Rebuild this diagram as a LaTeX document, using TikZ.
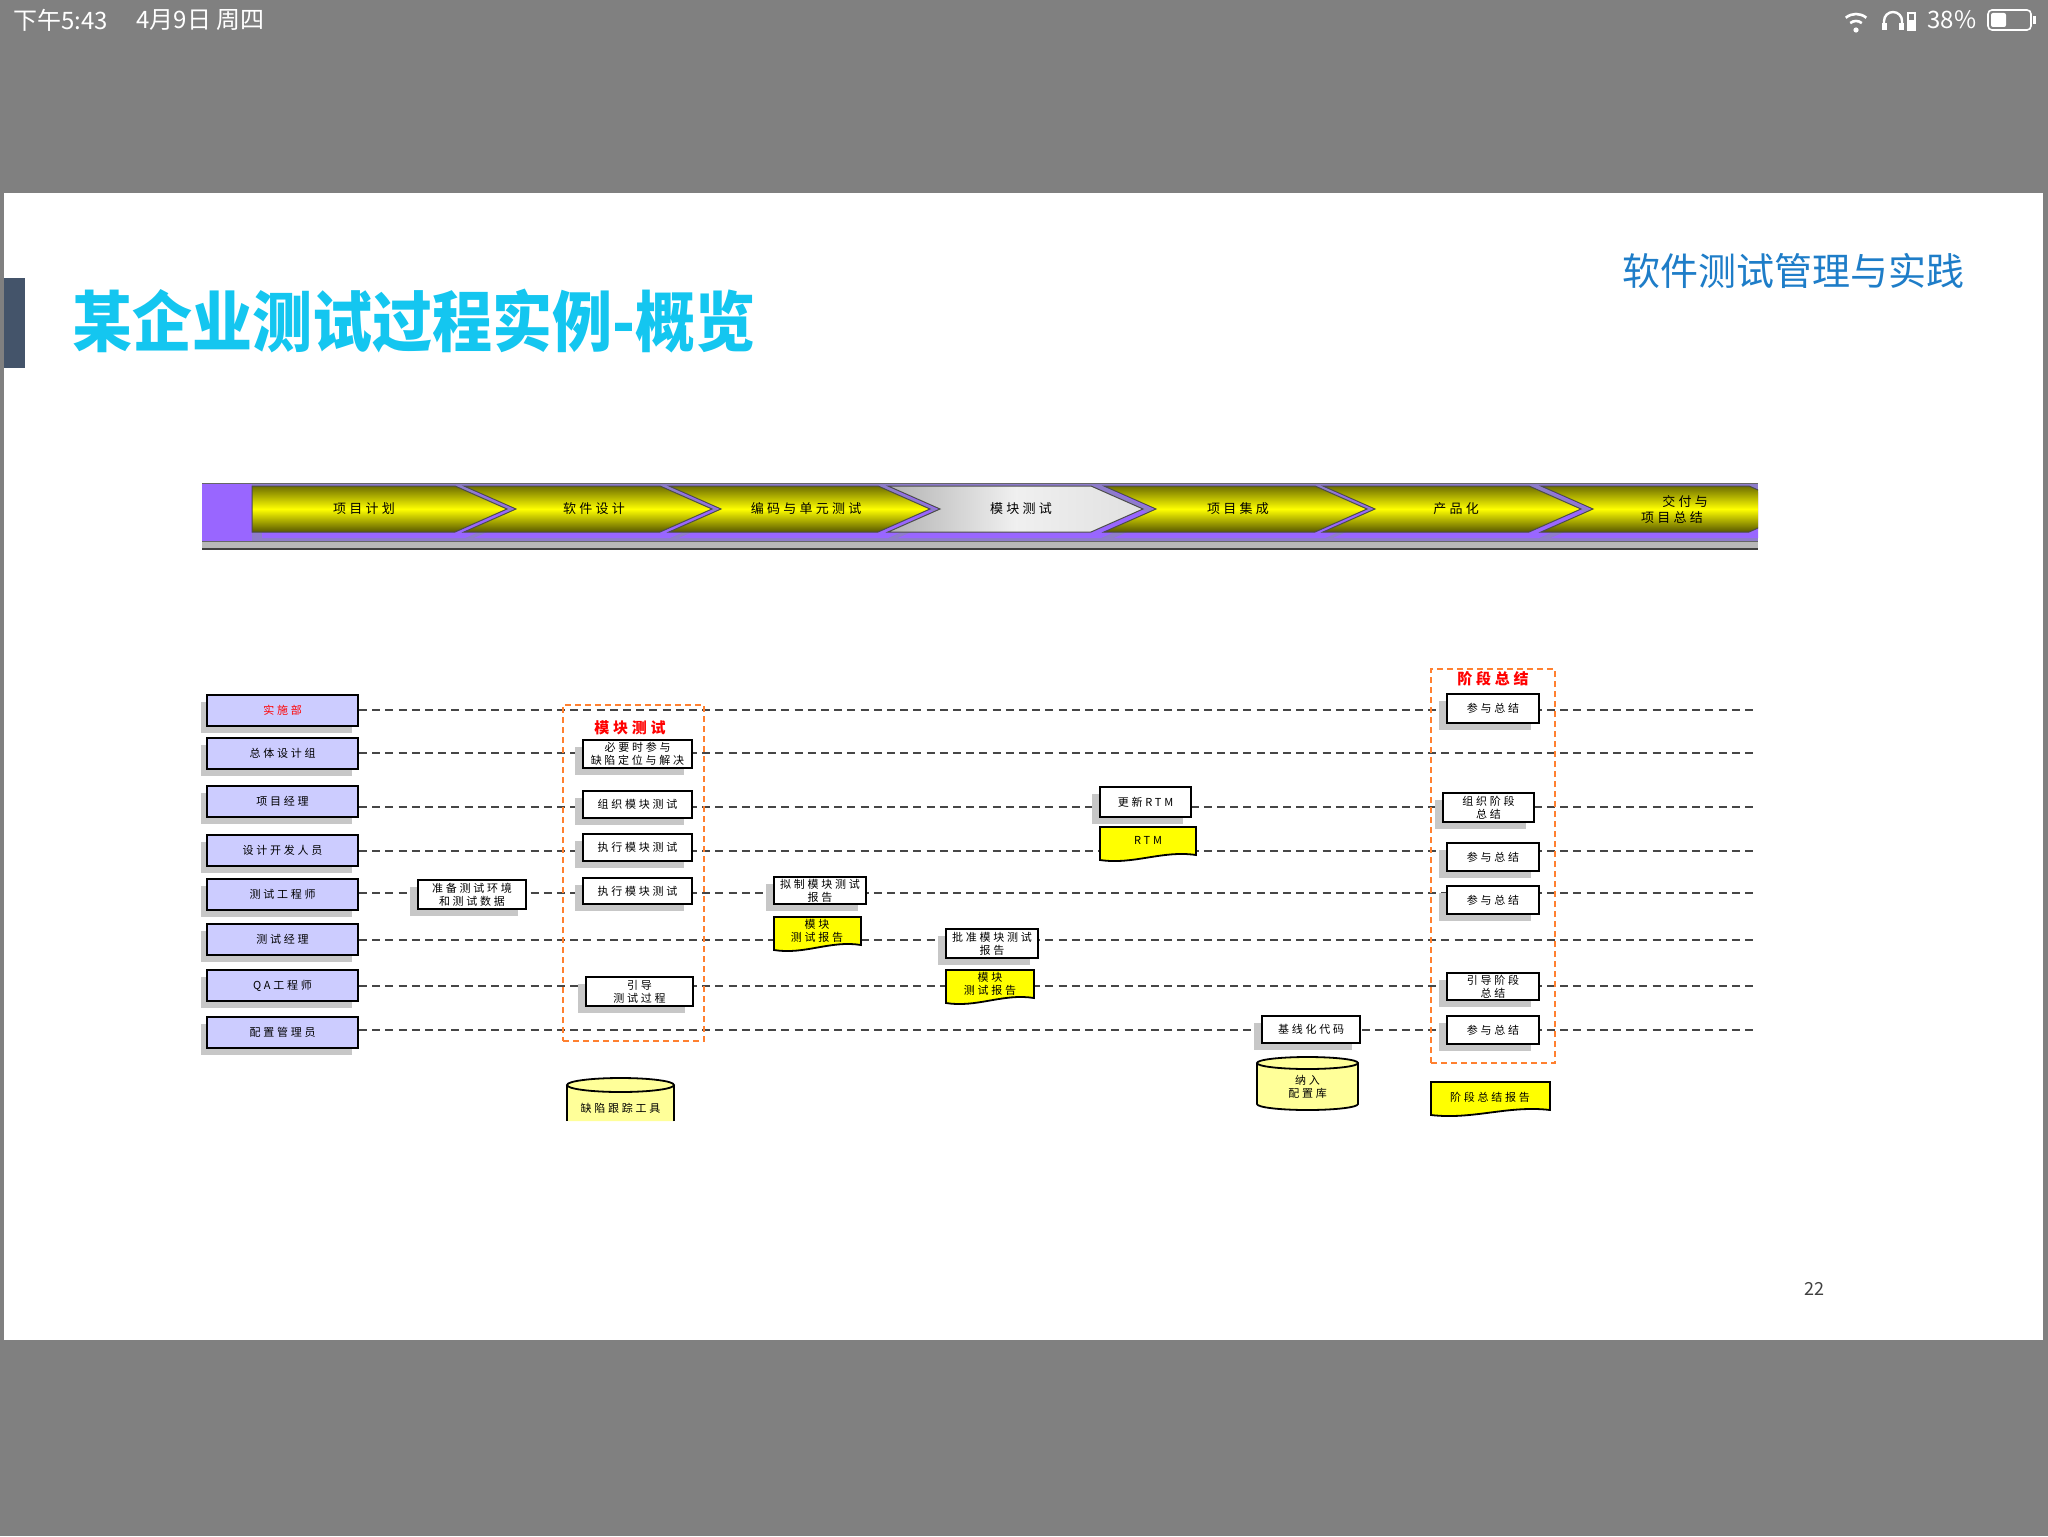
\documentclass[tikz,border=0pt]{standalone}
\usepackage{fontspec}
\newfontfamily\cjk{Noto Sans CJK SC}
\newfontfamily\cjksp[LetterSpace=25]{Noto Sans CJK SC}
\usetikzlibrary{shadows,calc}
\pgfdeclarelayer{bg}
\pgfdeclarelayer{lanes}
\pgfsetlayers{bg,lanes,main}
\definecolor{slidegray}{RGB}{128,128,128}
\definecolor{titlebar}{RGB}{68,84,106}
\definecolor{titlecyan}{RGB}{20,198,240}
\definecolor{subblue}{RGB}{30,125,200}
\definecolor{lav}{RGB}{204,204,255}
\definecolor{docyellow}{RGB}{255,255,0}
\definecolor{cylyellow}{RGB}{255,255,153}
\definecolor{orangeline}{RGB}{255,128,48}
\definecolor{bandpurple}{RGB}{142,124,203}
\definecolor{brightpurple}{RGB}{153,102,255}
\definecolor{olivedark}{RGB}{110,110,0}
\definecolor{lanegray}{RGB}{70,70,70}
\newcommand\chevshape[4]{\path[#4] (#1,486) -- (#2,486) -- ({#2+52},509) -- (#2,532) -- (#1,532) -- ({#1+#3},509) -- cycle;}
\newcommand\docshape[4]{\filldraw[docstyle] (#1,#2) -- (#3,#2) -- (#3,{#4-6}) .. controls ({#1+0.65*(#3-#1)},{#4-11}) and ({#1+0.35*(#3-#1)},{#4+4}) .. (#1,{#4-1}) -- cycle;}
\begin{document}
\begin{tikzpicture}[x=0.5pt,y=-0.5pt,
 wh/.style 2 args={minimum width={(#1)*0.5pt}, minimum height={(#2)*0.5pt}},
 boxfont/.style={font=\cjksp\fontsize{5.5}{6.6}\selectfont},
 rolebox/.style={draw=black, line width=1pt, fill=lav, inner sep=0pt, boxfont, wh={151}{31},
   drop shadow={shadow xshift=-3pt, shadow yshift=-3.5pt, fill=black!22, opacity=1}},
 wbox/.style={draw=black, line width=0.9pt, fill=white, inner sep=0pt, align=center, boxfont,
   drop shadow={shadow xshift=-4pt, shadow yshift=-3.5pt, fill=black!22, opacity=1}},
 doclabel/.style={inner sep=0pt, align=center, boxfont},
 lane/.style={draw=lanegray, line width=0.7pt, dash pattern=on 4pt off 2.6pt},
 orangebox/.style={draw=orangeline, line width=0.9pt, dash pattern=on 3pt off 2pt, inner sep=0pt},
 grouptitle/.style={text=red, font=\cjksp\bfseries\fontsize{7.5}{9}\selectfont, inner sep=0pt},
 docstyle/.style={fill=docyellow, draw=black, line width=0.9pt},
 cylstyle/.style={fill=cylyellow, draw=black, line width=0.9pt},
 chevfont/.style={font=\cjksp\fontsize{6.5}{8}\selectfont, inner sep=0pt, align=center},
 chevfill/.style={top color=olivedark, bottom color=olivedark!80!black, middle color=yellow, draw=black!70, line width=0.5pt},
 marblefill/.style={left color=black!30, right color=black!12, middle color=black!6, draw=black!70, line width=0.5pt},
 chevshadow/.style={fill=brightpurple, xshift=5pt, yshift=-3pt},
]
\useasboundingbox (0,0) rectangle (2048,1536);
\begin{pgfonlayer}{bg}
\fill[slidegray] (0,0) rectangle (2048,1536);
\fill[white] (4,193) rectangle (2043,1340);
\fill[titlebar] (4,278) rectangle (25,368);
\end{pgfonlayer}

% status bar
\node[anchor=west, text=white, font=\cjk\fontsize{12}{14}\selectfont, inner sep=0pt] (time) at (13,20) {下午5:43};
\node[anchor=west, text=white, font=\cjk\fontsize{12}{14}\selectfont, inner sep=0pt] (date) at (136,20) {4月9日 周四};
\fill[white] (1856,30) circle[radius=1.3pt];
\draw[white, line width=1.3pt] (1856,30) ++(50:4.5pt) arc[start angle=50,end angle=130,radius=4.5pt];
\draw[white, line width=1.3pt] (1856,30) ++(50:8pt) arc[start angle=50,end angle=130,radius=8pt];
\draw[white, line width=1.2pt] (1884,29) -- (1884,21) arc[start angle=180,end angle=0,radius=4.5pt] -- (1902,29);
\fill[white] (1882,23) rectangle (1887,30);
\fill[white] (1899,23) rectangle (1904,30);
\draw[white, line width=0.6pt] (1908,13) rectangle (1915,30);
\fill[white] (1909,20) rectangle (1914,29);
\node[anchor=west, text=white, font=\cjk\fontsize{12}{14}\selectfont, inner sep=0pt] (batt) at (1927,20) {38\%};
\draw[white, line width=0.8pt, rounded corners=2pt] (1988,10) rectangle (2031,30);
\fill[white, rounded corners=1pt] (1991,13) rectangle (2006,27);
\fill[white] (2033,16) rectangle (2036,24);

% titles
\node[anchor=west, inner sep=0pt, text=titlecyan, font=\cjk\bfseries\fontsize{30}{32}\selectfont] (title) at (72,321) {\scalebox{1}[1.1]{某企业测试过程实例-概览}};
\node[anchor=west, inner sep=0pt, text=subblue, font=\cjk\fontsize{19}{21}\selectfont] (subtitle) at (1622,271) {软件测试管理与实践};
\node[inner sep=0pt, text=black!75, font=\cjk\fontsize{9}{10}\selectfont] (pgnum) at (1814,1289) {22};

% phase band
\fill[bandpurple] (202,483) rectangle (1758,541);
\fill[brightpurple] (202,483) rectangle (252,541);
\begin{scope}
\clip (202,483) rectangle (1758,541);
\chevshape{252}{455}{0}{chevshadow}
\chevshape{464}{660}{52}{chevshadow}
\chevshape{669}{878}{52}{chevshadow}
\chevshape{888}{1091}{52}{chevshadow}
\chevshape{1104}{1315}{52}{chevshadow}
\chevshape{1323}{1529}{52}{chevshadow}
\chevshape{1541}{1749}{52}{chevshadow}
\chevshape{252}{455}{0}{chevfill}
\chevshape{464}{660}{52}{chevfill}
\chevshape{669}{878}{52}{chevfill}
\chevshape{888}{1091}{52}{marblefill}
\chevshape{1104}{1315}{52}{chevfill}
\chevshape{1323}{1529}{52}{chevfill}
\chevshape{1541}{1749}{52}{chevfill}
\end{scope}
\draw[black!60, line width=0.5pt] (202,483.5) -- (1758,483.5);
\fill[black!28] (202,541) rectangle (1758,549);
\draw[black!60, line width=0.5pt] (202,541) -- (1758,541);
\draw[black!75, line width=0.8pt] (202,549) -- (1758,549);
\node[chevfont] (p1) at (364,509) {项目计划};
\node[chevfont] (p2) at (594,509) {软件设计};
\node[chevfont] (p3) at (806,509) {编码与单元测试};
\node[chevfont] (p4) at (1021,509) {模块测试};
\node[chevfont] (p5) at (1238,509) {项目集成};
\node[chevfont] (p6) at (1456,509) {产品化};
\node[chevfont] (p7) at (1672,509) {\hspace*{2em}交付与\\项目总结};

% roles
\node[rolebox, text=red] (r1) at (282.5,710) {实施部};
\node[rolebox] (r2) at (282.5,753) {总体设计组};
\node[rolebox] (r3) at (282.5,801.5) {项目经理};
\node[rolebox] (r4) at (282.5,850.5) {设计开发人员};
\node[rolebox] (r5) at (282.5,894.5) {测试工程师};
\node[rolebox] (r6) at (282.5,939.5) {测试经理};
\node[rolebox] (r7) at (282.5,985.5) {QA工程师};
\node[rolebox] (r8) at (282.5,1032) {配置管理员};

% module test group
\node[orangebox, wh={141}{336}] (mtgroup) at (633.5,873) {};
\node[grouptitle] (mttitle) at (630,728) {模块测试};
\node[wbox, wh={109}{28}] (bhelp) at (637.5,754) {必要时参与\\缺陷定位与解决};
\node[wbox, wh={109}{27}] (borg) at (637.5,804.5) {组织模块测试};
\node[wbox, wh={109}{27}] (bexeca) at (637.5,847.5) {执行模块测试};
\node[wbox, wh={109}{26}] (bexecb) at (637.5,891) {执行模块测试};
\node[wbox, wh={107}{29}] (bguide) at (639.5,991.5) {引导\\测试过程};
\node[wbox, wh={108}{29}] (bprep) at (472,894.5) {准备测试环境\\和测试数据};

% defect tracking tool (cut cylinder)
\fill[cylyellow] (567,1085) -- (567,1121) -- (674,1121) -- (674,1085) arc[start angle=0,end angle=180,x radius=26.75pt,y radius=3.5pt] -- cycle;
\draw[black, line width=0.9pt] (567,1121) -- (567,1085) (674,1121) -- (674,1085);
\draw[black, line width=0.9pt] (620.5,1085) ellipse [x radius=26.75pt, y radius=3.5pt];
\node[doclabel] (defect) at (620.5,1108) {缺陷跟踪工具};

% reports
\node[wbox, wh={92}{27}] (bdraft) at (820,890.5) {拟制模块测试\\报告};
\docshape{774}{917}{861}{951}
\node[doclabel] (doca) at (817,931) {模块\\测试报告};
\node[wbox, wh={92}{29}] (bappr) at (992,943.5) {批准模块测试\\报告};
\docshape{946}{970}{1034}{1004}
\node[doclabel] (docb) at (990,984) {模块\\测试报告};

% RTM
\node[wbox, wh={91}{30}] (brtm) at (1145.5,802) {更新RTM};
\docshape{1100}{827}{1196}{861}
\node[doclabel] (docrtm) at (1148,840) {RTM};

% baseline
\node[wbox, wh={98}{27}] (bbase) at (1311,1029.5) {基线化代码};
\filldraw[cylstyle] (1257,1063) -- (1257,1104) arc[start angle=180,end angle=360,x radius=25.25pt,y radius=3pt] -- (1358,1063) arc[start angle=0,end angle=180,x radius=25.25pt,y radius=3pt] -- cycle;
\draw[black, line width=0.9pt] (1257,1063) arc[start angle=180,end angle=360,x radius=25.25pt,y radius=3pt];
\node[doclabel] (repo) at (1307.5,1087) {纳入\\配置库};

% stage summary group
\node[orangebox, wh={124}{394}] (sumgroup) at (1493,866) {};
\node[grouptitle] (sumtitle) at (1493,679) {阶段总结};
\node[wbox, wh={92}{29}] (sa) at (1493,708.5) {参与总结};
\node[wbox, wh={91}{29}] (sorg) at (1488.5,807.5) {组织阶段\\总结};
\node[wbox, wh={92}{28}] (sb) at (1493,857) {参与总结};
\node[wbox, wh={92}{28}] (sc) at (1493,900) {参与总结};
\node[wbox, wh={92}{27}] (sguide) at (1493,986.5) {引导阶段\\总结};
\node[wbox, wh={92}{28}] (sd) at (1493,1030) {参与总结};
\docshape{1431}{1082}{1550}{1116}
\node[doclabel] (sumrep) at (1490,1097) {阶段总结报告};

% swimlane lines
\begin{pgfonlayer}{lanes}
\foreach \r/\y in {r1/710, r2/753, r3/807, r4/851, r5/893, r6/940, r7/986, r8/1030} {
  \coordinate (e\r) at (1758,\y);
  \draw[lane] (\r.east |- e\r) -- (e\r);
}
\end{pgfonlayer}
\end{tikzpicture}
\end{document}
